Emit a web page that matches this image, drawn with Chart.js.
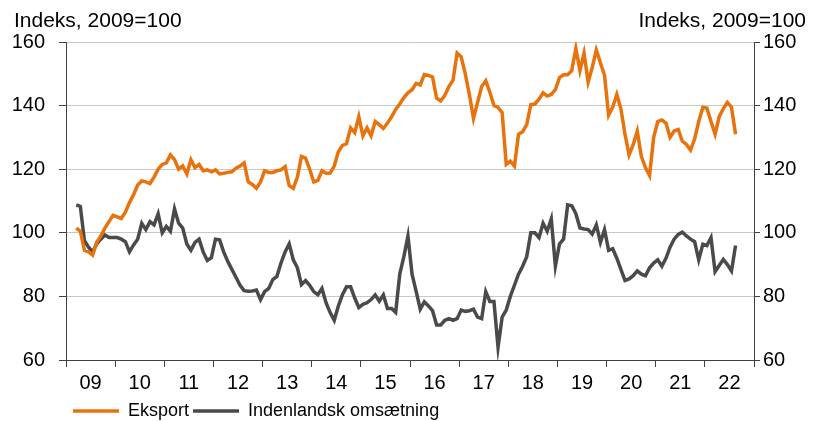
<!DOCTYPE html>
<html>
<head>
<meta charset="utf-8">
<script src="https://cdn.jsdelivr.net/npm/chart.js@4/dist/chart.umd.min.js"></script>
<style>
html,body{margin:0;padding:0;background:#fff;}
</style>
</head>
<body>
<canvas id="chart" width="813" height="421"></canvas>
<script>
// --- data ---
const yearLabels = ["09","10","11","12","13","14","15","16","17","18","19","20","21","22"];
const firstObs = {year: 2009, month: 3}; // first monthly observation, March 2009
const unitLabel = "Indeks, 2009=100";
const yTicks = [60, 80, 100, 120, 140, 160];

const eksport = [
  101.5,100.5,94.5,94,93,97,99,101.5,103.5,105.5,
  105,104.5,106.5,109.5,112,115,116.3,116,115.5,117.5,120,121.5,
  122,124.5,123,120,121,118.5,123,120.5,121.5,119.5,119.8,119.2,
  119.8,118.5,118.7,119,119.2,120.3,121,122,116,115.2,114,116,
  119.5,119,119,119.5,119.8,120.8,114.8,114,117.5,124,123.5,120,
  116,116.5,119.5,118.7,118.8,121,125.5,127.5,128,133,131.5,136.5,
  130.5,133,130.5,135,134,132.8,134.5,136.5,138.8,140.5,142.5,144,
  145,147,146.5,149.8,149.5,149,142.3,141.5,143.2,146,148,156.5,
  155.3,150,143.5,136,141,146,147.8,144.2,140,139.4,137.8,121.5,
  122.5,121,131,131.8,134,140.3,140.5,142,144,143,143.5,145,
  148.8,149.7,149.7,151,158,151,156.5,147.4,152,157.5,153.5,149.5,
  137,139.5,143.5,139,131,124.5,127.7,132,124,120.5,118,130,
  135,135.5,134.5,130,132,132.5,128.8,127.8,126,129.5,135,139.4,
  139.2,135,131,136.5,139,141,139.5,131
];

const indenlandsk = [
  108.8,108.3,97.5,95.5,94,96.5,98,99.3,98.5,98.5,
  98.5,98,97.2,94,96.2,98,103,101,103.5,102.5,106,100,
  102,100.5,107.5,103,101.5,96.5,94.5,97,98,94,91.3,92.2,
  98,97.8,94,91,88.5,86,83.5,81.8,81.6,81.7,82,79,
  81.5,82.5,85.3,86.3,90.5,94,96.5,91.5,89,83.7,85,83.5,
  81.5,80.5,82.5,78,74.9,72.5,77,80.5,83,83,79.5,76.5,
  77.5,78,79,80.5,78.5,80.5,76.2,76.2,75,87,92.5,99,
  87,81.6,76,78.3,77,75.5,71,71,72.5,73,72.5,73,
  75.7,75.3,75.5,76,73.5,73,81.5,78.4,78.4,64,73.5,75.7,
  80,83.5,87,89.5,92.5,100,100,98.5,103,100.5,104.4,89.5,
  96.5,98,108.8,108.5,106,101.5,101.2,101,99.6,102.5,97,101,
  94.5,95,92,88.5,85,85.5,86.5,88,87,86.5,89,90.5,
  91.5,89.5,92,95.5,98,99.5,100.2,99,98,97.2,91.5,96.4,
  96,98.5,87.8,89.7,91.6,90,88,96
];

const FONT = "'Liberation Sans', Arial, sans-serif";
const startIdx = (firstObs.year - 2009) * 12 + firstObs.month - 1;
function toPoints(vals){ return vals.map((v,i)=>({x: startIdx + i + 0.5, y: v})); }

// year boundaries get a tick mark, year middles get the label
function yearTicks(){
  const t = [];
  for(let k=0;k<=yearLabels.length;k++){
    t.push({value:k*12});
    if(k<yearLabels.length) t.push({value:k*12+6});
  }
  return t;
}

// move legend under the plot like the original
const legendShift = {
  id:'legendShift',
  afterLayout(chart){
    const l = chart.legend; if(!l) return;
    l.left += 69; l.right += 69; l.top += 9; l.bottom += 9;
  }
};

const unitTitles = {
  id:'unitTitles',
  afterDraw(chart){
    const c = chart.ctx;
    c.save();
    c.font = "21px " + FONT;
    c.fillStyle = "#000";
    c.textBaseline = "alphabetic";
    c.textAlign = "left"; c.fillText(unitLabel, 14, 27);
    c.textAlign = "right"; c.fillText(unitLabel, 806, 27);
    c.restore();
  }
};

new Chart(document.getElementById("chart"), {
  type:'line',
  data:{
    datasets:[
      {label:'Eksport', data:toPoints(eksport), borderColor:'#E8720C', backgroundColor:'#E8720C', borderWidth:3.5, pointRadius:0, tension:0, yAxisID:'y'},
      {label:'Indenlandsk omsætning', data:toPoints(indenlandsk), borderColor:'#4A4A4A', backgroundColor:'#4A4A4A', borderWidth:3.5, pointRadius:0, tension:0, yAxisID:'y'}
    ]
  },
  options:{
    responsive:false,
    animation:false,
    layout:{padding:{top:42,left:0,right:0,bottom:0}},
    plugins:{
      legend:{
        position:'bottom', align:'start',
        labels:{usePointStyle:true, pointStyle:'line', pointStyleWidth:46, padding:4, color:'#000', font:{family:FONT, size:18}}
      },
      tooltip:{enabled:false}
    },
    scales:{
      x:{
        type:'linear', min:0, max:yearLabels.length*12,
        afterBuildTicks(s){ s.ticks = yearTicks(); },
        afterFit(s){ s.height = 29; },
        ticks:{
          autoSkip:false, maxRotation:0, padding:4, color:'#000', font:{family:FONT, size:20},
          callback(v){ return v%12===6 ? yearLabels[(v-6)/12] : ''; }
        },
        grid:{drawOnChartArea:false, tickLength:7, tickColor:ctx => (ctx.tick && ctx.tick.value%12===0) ? '#404040' : 'rgba(0,0,0,0)'},
        border:{color:'#404040', width:1}
      },
      y:{
        position:'left', min:60, max:160,
        afterBuildTicks(s){ s.ticks = yTicks.map(v=>({value:v})); },
        afterFit(s){ s.width = 66; },
        ticks:{padding:14, color:'#000', font:{family:FONT, size:20}},
        grid:{color:'#c8c8c8', lineWidth:1, tickLength:7, tickColor:'#404040'},
        border:{color:'#404040', width:1}
      },
      y2:{
        position:'right', min:60, max:160,
        afterBuildTicks(s){ s.ticks = yTicks.map(v=>({value:v})); },
        afterFit(s){ s.width = 59; },
        ticks:{padding:3, color:'#000', font:{family:FONT, size:20}},
        grid:{drawOnChartArea:false, tickLength:6, tickColor:'#404040'},
        border:{color:'#404040', width:1}
      }
    }
  },
  plugins:[legendShift, unitTitles]
});
</script>
</body>
</html>
